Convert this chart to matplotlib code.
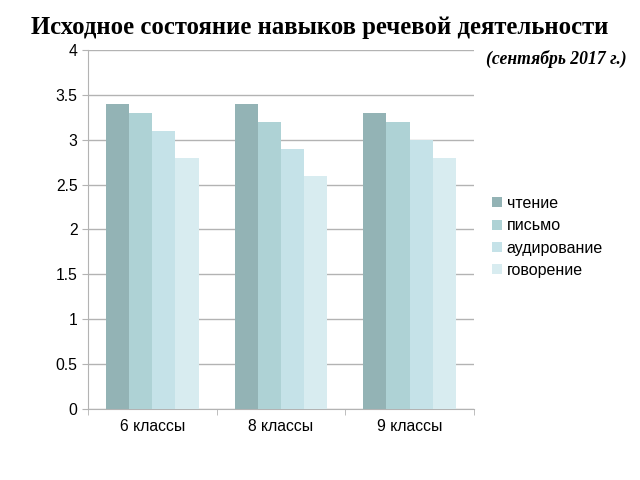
import numpy as np
import matplotlib.pyplot as plt

categories = ['6 классы', '8 классы', '9 классы']
series_names = ['чтение', 'письмо', 'аудирование', 'говорение']
reading = [3.4, 3.4, 3.3]
writing = [3.3, 3.2, 3.2]
listening = [3.1, 2.9, 3.0]
speaking = [2.8, 2.6, 2.8]
colors = ['#93b3b5', '#aed2d5', '#c5e2e8', '#d8ecf0']

plt.rcParams['font.family'] = ['Liberation Sans', 'DejaVu Sans']

fig = plt.figure(figsize=(6.4, 4.8), dpi=100)
ax = fig.add_axes([0.1375, 0.148, 0.603, 0.748])

x = np.arange(len(categories))
width = 0.18
for i, (vals, name) in enumerate(zip([reading, writing, listening, speaking], series_names)):
    ax.bar(x + (i - 1.5) * width, vals, width, color=colors[i], label=name, zorder=3)

ax.set_xlim(-0.5, 2.5)
ax.set_ylim(0, 4)
ax.set_yticks(np.arange(0, 4.01, 0.5))
ax.set_yticklabels(['0', '0.5', '1', '1.5', '2', '2.5', '3', '3.5', '4'])
ax.yaxis.grid(True, color='#b3b3b3', linewidth=1, zorder=0)
ax.set_xticks(x)
ax.set_xticklabels(categories)
ax.set_xticks([-0.5, 0.5, 1.5, 2.5], minor=True)
ax.tick_params(axis='x', which='major', length=0, labelsize=11.3, pad=7)
ax.tick_params(axis='x', which='minor', length=4, color='#b3b3b3')
ax.tick_params(axis='y', length=4, color='#b3b3b3', labelsize=11.3)
for side in ['top', 'right']:
    ax.spines[side].set_visible(False)
for side in ['left', 'bottom']:
    ax.spines[side].set_color('#b3b3b3')

ax.legend(loc='center left', bbox_to_anchor=(1.01, 0.479), frameon=False,
          fontsize=11.5, handlelength=0.6, handleheight=0.6, handletextpad=0.3,
          labelspacing=0.46)

fig.text(0.5, 0.943, 'Исходное состояние навыков речевой деятельности',
         ha='center', va='center', fontsize=17.8, fontweight='bold',
         family=['Liberation Serif', 'DejaVu Serif'])
fig.text(0.87, 0.877, '(сентябрь 2017 г.)', ha='center', va='center',
         fontsize=12.7, fontweight='bold', style='italic',
         family=['Liberation Serif', 'DejaVu Serif'])

fig.savefig('out.png', dpi=100)
